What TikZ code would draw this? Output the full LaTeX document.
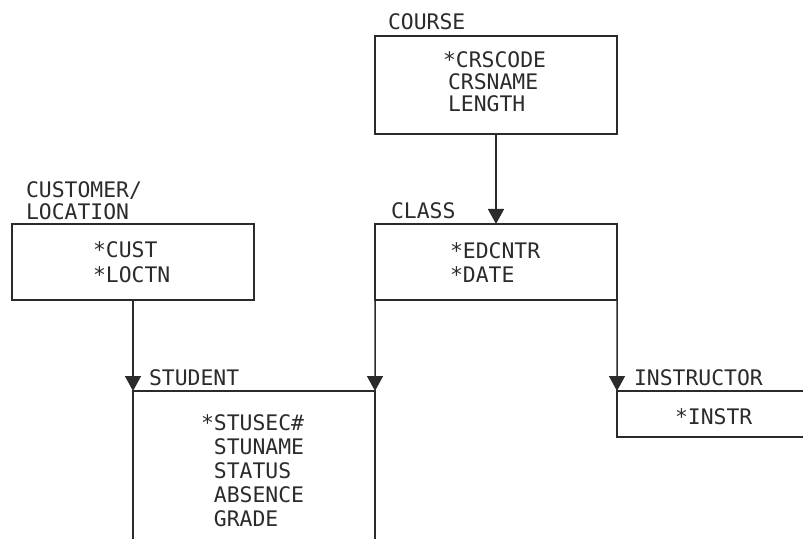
\documentclass[tikz,border=0pt]{standalone}
\usepackage{fontspec}
\setmonofont{DejaVu Sans Mono}
\usetikzlibrary{arrows.meta}
\definecolor{ink}{HTML}{2B2B2B}
\newcommand{\fieldfont}{\ttfamily\fontsize{21.4bp}{24bp}\selectfont}
% a left-aligned column of lines, baseline on its first line, #1 = line pitch
\newcommand{\fieldlist}[2]{{\fontsize{21.4bp}{#1}\selectfont
  \begin{tabular}[t]{@{}l@{}}#2\end{tabular}}}
\newcommand{\nokey}{\phantom{*}}
\newcommand{\key}{{*}}
\begin{document}
\begin{tikzpicture}[x=1bp,y=-1bp,
  entity/.style={draw=ink, line width=1.5bp, minimum width=242bp,
                 inner sep=0pt, outer sep=0pt},
  txt/.style={anchor=base west, inner sep=0pt, outer sep=0pt,
              text=ink, font=\fieldfont},
  edge/.style={draw=ink, line width=1.5bp},
  rel/.style={edge, -{Triangle[width=16bp,length=15bp]}}]
\fill[white] (0,0) rectangle (803,539);
\useasboundingbox (0,0) rectangle (803,539);

% segment boxes
\node[entity, minimum height=98bp] (course) at (496,85)  {};
\node[entity, minimum height=76bp] (class)  at (496,262) {};
\node[entity, minimum height=76bp] (cust)   at (133,262) {};

% open-ended boxes running off the page
\coordinate (stuNW) at (133,391);
\coordinate (stuNE) at (375,391);
\coordinate (stuSW) at (133,539);
\coordinate (stuSE) at (375,539);
\coordinate (insNW) at (617,391);
\coordinate (insNE) at (803,391);
\coordinate (insSW) at (617,437);
\coordinate (insSE) at (803,437);
\draw[edge] (stuSW) -- (stuNW) -- (stuNE) -- (stuSE);
\draw[edge] (insNE) -- (insNW) -- (insSW) -- (insSE);

% relationships
\draw[rel] (course.south) -- (class.north);
\draw[rel] (cust.south) -- (stuNW);
\draw[rel] (class.south west) -- (stuNE);
\draw[rel] (class.south east) -- (insNW);

% segment names
\node[txt] (courseName) at (388,30)  {COURSE};
\node[txt] (className)  at (391,219) {CLASS};
\node[txt] (custName)   at (26,198)  {\fieldlist{20bp}{CUSTOMER/\\LOCATION}};
\node[txt] (stuName)    at (149,385) {STUDENT};
\node[txt] (insName)    at (634,385) {INSTRUCTOR};

% fields (key fields are starred)
\node[txt] (courseFields) at (443,68)
  {\fieldlist{19.4bp}{\key CRSCODE\\\kern5bp CRSNAME\\\kern5bp LENGTH}};
\node[txt] (classFields) at (450,259)
  {\fieldlist{24bp}{\key EDCNTR\\\key DATE}};
\node[txt] (custFields) at (93,258)
  {\fieldlist{25bp}{\key CUST\\\key LOCTN}};
\node[txt] (stuFields) at (201,430)
  {\fieldlist{24.2bp}{\key STUSEC\#\\\nokey STUNAME\\\nokey STATUS\\\nokey ABSENCE\\\nokey GRADE}};
\node[txt] (insFields) at (675,424) {\key INSTR};
\end{tikzpicture}
\end{document}
